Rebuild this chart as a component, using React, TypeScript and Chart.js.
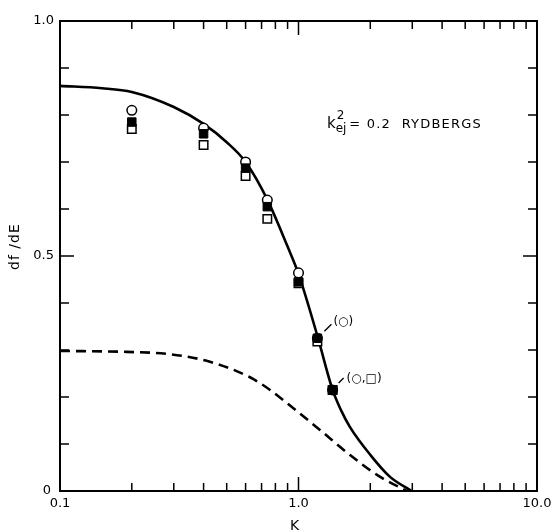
import React, { useEffect, useRef } from "react";
import { Chart, registerables } from "chart.js";

Chart.register(...registerables);

// Solid curve (theory)
const solidK = [0.1, 0.15, 0.2, 0.3, 0.4, 0.5, 0.6, 0.74, 0.9, 1.0, 1.2, 1.39, 1.507, 1.644, 2.0, 2.42, 2.98];
const solidF = [0.862, 0.857, 0.849, 0.817, 0.781, 0.742, 0.70, 0.62, 0.52, 0.462, 0.33, 0.215, 0.172, 0.136, 0.077, 0.03, 0.0];

// Dashed curve
const dashK = [0.1, 0.19, 0.29, 0.425, 0.626, 0.76, 0.905, 1.23, 1.64, 2.2, 2.85];
const dashF = [0.298, 0.296, 0.291, 0.275, 0.242, 0.215, 0.185, 0.13, 0.077, 0.03, 0.0];

// Data points
const markK = [0.2, 0.4, 0.6, 0.74, 1.0, 1.2, 1.39];
const circleF = [0.81, 0.772, 0.70, 0.619, 0.464, 0.325, 0.215];
const filledF = [0.785, 0.76, 0.687, 0.605, 0.445, 0.325, 0.215];
const openF = [0.77, 0.736, 0.67, 0.579, 0.442, 0.318, 0.215];

// Axis ticks
const xMajor = [0.1, 1, 10];
const xMajorLabels = ["0.1", "1.0", "10.0"];
const xMinor = [0.2, 0.3, 0.4, 0.5, 0.6, 0.7, 0.8, 0.9, 2, 3, 4, 5, 6, 7, 8, 9];
const yMajor = [0, 0.5, 1.0];
const yMajorLabels = ["0", "0.5", "1.0"];
const yMinor = [0.1, 0.2, 0.3, 0.4, 0.6, 0.7, 0.8, 0.9];

const FONT = '"DejaVu Sans", "Liberation Sans", sans-serif';

const pts = (xs: number[], ys: number[]) => xs.map((x, i) => ({ x, y: ys[i] }));

const framePlugin = {
  id: "frame",
  afterDatasetsDraw(chart: any) {
    const ctx = chart.ctx as CanvasRenderingContext2D;
    const xs = chart.scales.x;
    const ys = chart.scales.y;
    const { left, right, top, bottom } = chart.chartArea;
    ctx.save();
    ctx.strokeStyle = "#000";
    ctx.fillStyle = "#000";
    ctx.lineWidth = 2;
    ctx.strokeRect(left, top, right - left, bottom - top);
    ctx.lineWidth = 1.5;
    ctx.beginPath();
    for (const v of xMinor) {
      const p = xs.getPixelForValue(v);
      ctx.moveTo(p, bottom); ctx.lineTo(p, bottom - 8);
      ctx.moveTo(p, top); ctx.lineTo(p, top + 8);
    }
    {
      const p = xs.getPixelForValue(1);
      ctx.moveTo(p, bottom); ctx.lineTo(p, bottom - 14);
      ctx.moveTo(p, top); ctx.lineTo(p, top + 14);
    }
    for (const v of yMinor) {
      const p = ys.getPixelForValue(v);
      ctx.moveTo(left, p); ctx.lineTo(left + 9, p);
      ctx.moveTo(right, p); ctx.lineTo(right - 9, p);
    }
    {
      const p = ys.getPixelForValue(0.5);
      ctx.moveTo(left, p); ctx.lineTo(left + 14, p);
      ctx.moveTo(right, p); ctx.lineTo(right - 14, p);
    }
    ctx.stroke();

    // tick labels
    ctx.font = `13px ${FONT}`;
    ctx.textAlign = "center";
    ctx.textBaseline = "middle";
    xMajor.forEach((v, i) => {
      ctx.fillText(xMajorLabels[i], xs.getPixelForValue(v), bottom + 13);
    });
    ctx.textAlign = "right";
    yMajor.forEach((v, i) => {
      const off = v === 0 ? 9 : 6;
      ctx.fillText(yMajorLabels[i], left - off, ys.getPixelForValue(v));
    });

    // axis titles
    ctx.textAlign = "center";
    ctx.font = `14px ${FONT}`;
    ctx.fillText("K", (left + right) / 2 - 4, bottom + 35);
    ctx.save();
    ctx.translate(15, ys.getPixelForValue(0.52));
    ctx.rotate(-Math.PI / 2);
    (ctx as any).letterSpacing = "1px";
    ctx.fillText("df /dE", 0, 0);
    ctx.restore();

    // annotation k_ej^2 = 0.2 RYDBERGS
    const ax = xs.getPixelForValue(1.316);
    const ay = ys.getPixelForValue(0.772);
    ctx.textAlign = "left";
    ctx.textBaseline = "alphabetic";
    ctx.font = `15px ${FONT}`;
    ctx.fillText("k", ax, ay);
    const kw = ctx.measureText("k").width;
    ctx.font = `12px ${FONT}`;
    ctx.fillText("2", ax + kw + 1, ay - 9);
    ctx.fillText("ej", ax + kw, ay + 4);
    const ejw = ctx.measureText("ej").width;
    ctx.font = `13px ${FONT}`;
    (ctx as any).letterSpacing = "1.2px";
    ctx.fillText("= 0.2  RYDBERGS", ax + kw + ejw + 3, ay);
    (ctx as any).letterSpacing = "0px";

    // leader labels
    ctx.lineWidth = 1.3;
    ctx.font = `12px ${FONT}`;
    ctx.textBaseline = "middle";
    const p1x = xs.getPixelForValue(markK[5]);
    const p1y = ys.getPixelForValue(filledF[5]);
    ctx.beginPath();
    ctx.moveTo(p1x + 7, p1y - 7);
    ctx.lineTo(p1x + 14, p1y - 14);
    ctx.stroke();
    ctx.fillText("(\u25CB)", p1x + 16, p1y - 16);
    const p2x = xs.getPixelForValue(markK[6]);
    const p2y = ys.getPixelForValue(filledF[6]);
    ctx.beginPath();
    ctx.moveTo(p2x + 6, p2y - 7);
    ctx.lineTo(p2x + 11, p2y - 12);
    ctx.stroke();
    ctx.fillText("(\u25CB,\u25A1)", p2x + 14, p2y - 11);
    ctx.restore();
  },
};

export default function App() {
  const ref = useRef<HTMLCanvasElement>(null);
  useEffect(() => {
    const canvas = ref.current;
    if (!canvas) return;
    const chart = new Chart(canvas, {
      type: "scatter",
      data: {
        datasets: [
          {
            label: "filled",
            data: pts(markK, filledF),
            pointStyle: "rect",
            pointRadius: 6,
            backgroundColor: "#000",
            borderColor: "#000",
            borderWidth: 1,
            order: 0,
          },
          {
            label: "open square",
            data: pts(markK, openF),
            pointStyle: "rect",
            pointRadius: 6,
            backgroundColor: "#fff",
            borderColor: "#000",
            borderWidth: 1.5,
            order: 1,
          },
          {
            label: "circle",
            data: pts(markK, circleF),
            pointStyle: "circle",
            pointRadius: 4.8,
            backgroundColor: "#fff",
            borderColor: "#000",
            borderWidth: 1.5,
            order: 2,
          },
          {
            label: "solid",
            data: pts(solidK, solidF),
            showLine: true,
            pointRadius: 0,
            borderColor: "#000",
            borderWidth: 2.6,
            cubicInterpolationMode: "monotone",
            order: 3,
          },
          {
            label: "dashed",
            data: pts(dashK, dashF),
            showLine: true,
            pointRadius: 0,
            borderColor: "#000",
            borderWidth: 2.6,
            borderDash: [10, 6],
            cubicInterpolationMode: "monotone",
            order: 4,
          },
        ],
      } as any,
      options: {
        responsive: false,
        animation: false,
        devicePixelRatio: 1,
        events: [],
        layout: { padding: { left: 60, top: 21, right: 16, bottom: 40 } },
        scales: {
          x: { type: "logarithmic", min: 0.1, max: 10, display: false },
          y: { type: "linear", min: 0, max: 1, display: false },
        },
        plugins: { legend: { display: false }, tooltip: { enabled: false } },
      } as any,
      plugins: [framePlugin],
    });
    return () => chart.destroy();
  }, []);
  return (
    <div style={{ position: "fixed", left: 0, top: 0, width: 553, height: 531, background: "#fff" }}>
      <canvas ref={ref} width={553} height={531} style={{ display: "block" }} />
    </div>
  );
}
